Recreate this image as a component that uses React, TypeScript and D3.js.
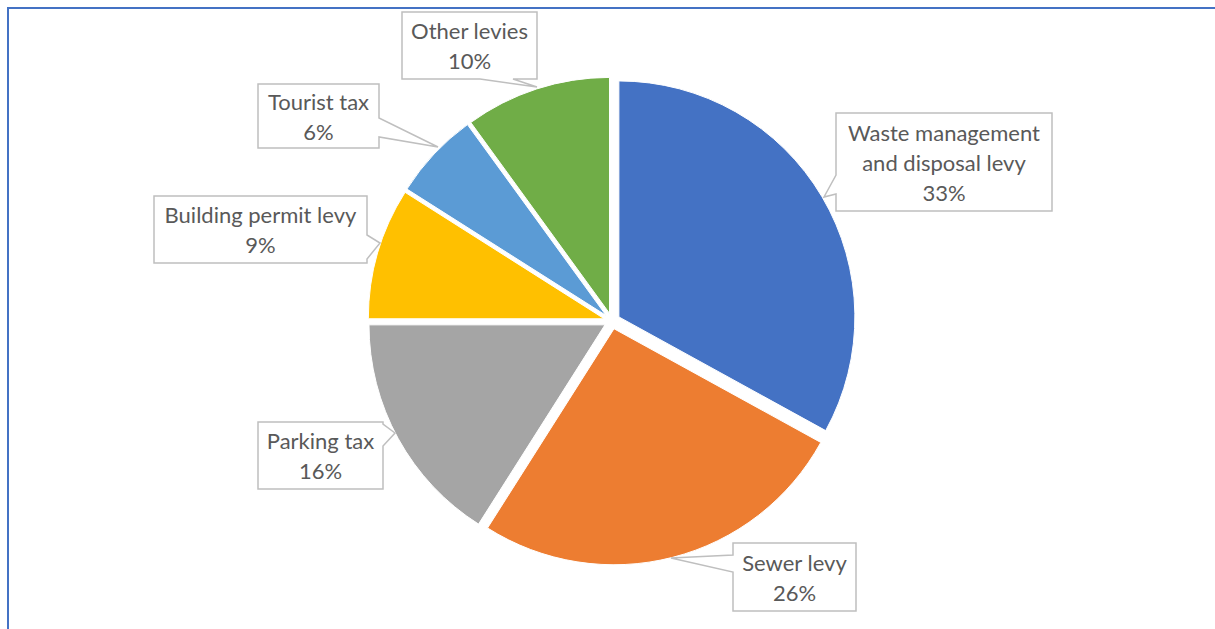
import React from "react";
import * as d3 from "d3";

const categories = ["Waste management and disposal levy", "Sewer levy", "Parking tax", "Building permit levy", "Tourist tax", "Other levies"];
const values = [33, 26, 16, 9, 6, 10];
const labelLines = [
  ["Waste management", "and disposal levy", "33%"],
  ["Sewer levy", "26%"],
  ["Parking tax", "16%"],
  ["Building permit levy", "9%"],
  ["Tourist tax", "6%"],
  ["Other levies", "10%"],
];
const colors = ["#4472C4", "#ED7D31", "#A5A5A5", "#FFC000", "#5B9BD5", "#70AD47"];

// callout layout: box x,y,w,h ; pointer side, base range, tip
type Callout = { x: number; y: number; w: number; h: number; side: "left" | "right" | "bottom"; b0: number; b1: number; tip: [number, number] };
const callouts: Callout[] = [
  { x: 836, y: 113, w: 216, h: 98, side: "left", b0: 175, b1: 194, tip: [824, 197] },
  { x: 733, y: 543, w: 123, h: 68, side: "left", b0: 555, b1: 572, tip: [671, 558] },
  { x: 258, y: 422, w: 125, h: 67, side: "right", b0: 424, b1: 446, tip: [395, 433] },
  { x: 154, y: 196, w: 213, h: 67, side: "right", b0: 235, b1: 259, tip: [380, 243] },
  { x: 258, y: 84, w: 121, h: 64, side: "right", b0: 118, b1: 137, tip: [438, 147] },
  { x: 402, y: 12, w: 135, h: 67, side: "bottom", b0: 480, b1: 513, tip: [537, 87] },
];

const W = 1215, H = 629;
const cx = 612, cy = 321, R = 236, EXPLODE = 8;

function calloutPath(c: Callout) {
  const { x, y, w, h, side, b0, b1, tip } = c;
  const r = x + w, b = y + h;
  if (side === "left") {
    return `M${x},${y}H${r}V${b}H${x}V${b1}L${tip[0]},${tip[1]}L${x},${b0}Z`;
  }
  if (side === "right") {
    return `M${x},${y}H${r}V${b0}L${tip[0]},${tip[1]}L${r},${b1}V${b}H${x}Z`;
  }
  return `M${x},${y}H${r}V${b}H${b1}L${tip[0]},${tip[1]}L${b0},${b}H${x}Z`;
}

export default function App() {
  const pie = d3.pie<number>().sort(null).value((d) => d)(values);
  const arc = d3.arc<d3.PieArcDatum<number>>().innerRadius(0).outerRadius(R);
  const font = "Lato, 'Open Sans', sans-serif";
  return (
    <svg width={W} height={H} style={{ position: "absolute", left: 0, top: 0, background: "#fff" }}>
      <rect x={0} y={0} width={W} height={H} fill="#fff" />
      <path d={`M8,${H + 5}V8H${W + 5}`} fill="none" stroke="#4472C4" strokeWidth={2} />
      <g transform={`translate(${cx},${cy})`}>
        {pie.map((p, i) => {
          const mid = (p.startAngle + p.endAngle) / 2;
          const dx = Math.sin(mid) * EXPLODE, dy = -Math.cos(mid) * EXPLODE;
          return (
            <path key={categories[i]} d={arc(p) || ""} fill={colors[i]} stroke="#fff" strokeWidth={1}
              transform={`translate(${dx},${dy})`} />
          );
        })}
      </g>
      {callouts.map((c, i) => {
        const lines = labelLines[i];
        const lh = 30;
        const total = lh * lines.length;
        const y0 = c.y + (c.h - total) / 2 + lh / 2 + 1;
        return (
          <g key={"c" + i}>
            <path d={calloutPath(c)} fill="#fff" stroke="#BFBFBF" strokeWidth={1.5} />
            {lines.map((t, j) => (
              <text key={j} x={c.x + c.w / 2} y={y0 + j * lh} dy="0.35em" textAnchor="middle"
                fontFamily={font} fontSize={22} fill="#595959">{t}</text>
            ))}
          </g>
        );
      })}
    </svg>
  );
}
